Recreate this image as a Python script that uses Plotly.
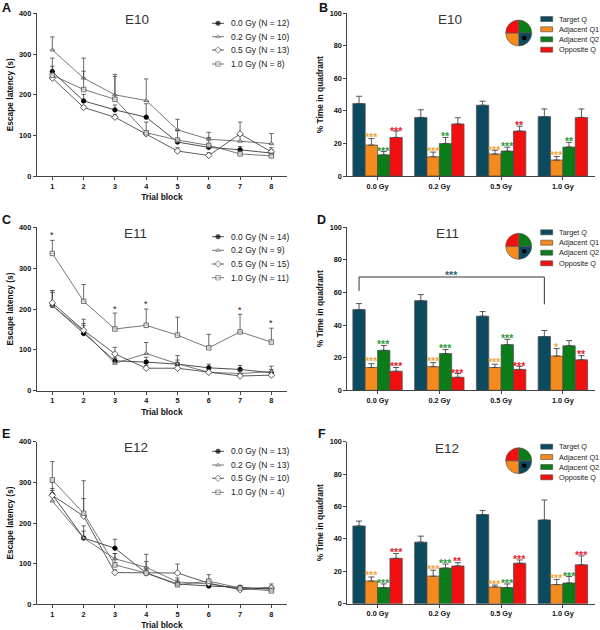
import plotly.graph_objects as go

W, H = 600, 630
trial_blocks = [1, 2, 3, 4, 5, 6, 7, 8]
doses = ["0.0 Gy", "0.2 Gy", "0.5 Gy", "1.0 Gy"]
quadrants = ["Target Q", "Adjacent Q1", "Adjacent Q2", "Opposite Q"]
pie_values = [1, 1, 1, 1]

# Panel A (E10): means and upper error limits
a_00 = [257, 185, 163, 145, 84, 71, 65, 57]
a_00_up = [290, 201, 175, 178, 92, 80, 73, 65]
a_02 = [310, 241, 200, 186, 114, 91, 86, 80]
a_02_up = [342, 290, 250, 239, 140, 108, 100, 105]
a_05 = [241, 169, 145, 104, 62, 51, 104, 60]
a_05_up = [252, 173, 152, 108, 70, 58, 133, 70]
a_10 = [248, 213, 189, 107, 89, 76, 55, 50]
a_10_up = [270, 258, 245, 133, 113, 95, 62, 57]
a_labels = ["0.0 Gy (N = 12)", "0.2 Gy (N = 10)", "0.5 Gy (N = 13)", "1.0 Gy (N = 8)"]

# Panel C (E11)
c_00 = [209, 140, 73, 70, 65, 56, 52, 44]
c_00_up = [245, 165, 82, 82, 75, 65, 62, 52]
c_02 = [208, 146, 67, 91, 66, 45, 42, 47]
c_02_up = [240, 175, 78, 118, 86, 52, 52, 60]
c_05 = [215, 148, 90, 55, 55, 45, 36, 38]
c_05_up = [245, 160, 106, 62, 62, 50, 42, 44]
c_10 = [336, 219, 151, 160, 136, 105, 144, 119]
c_10_up = [368, 260, 190, 200, 180, 138, 187, 153]
c_labels = ["0.0 Gy (N = 14)", "0.2 Gy (N = 9)", "0.5 Gy (N = 15)", "1.0 Gy (N = 11)"]
c_star_x = [1, 3, 4, 7, 8]
c_star_y = [385, 205, 216, 203, 170]

# Panel E (E12)
e_00 = [270, 163, 138, 77, 50, 45, 42, 37]
e_00_up = [300, 193, 160, 90, 55, 50, 45, 43]
e_02 = [254, 163, 112, 91, 55, 50, 38, 42]
e_02_up = [285, 180, 125, 105, 65, 57, 42, 50]
e_05 = [268, 217, 78, 77, 77, 52, 36, 40]
e_05_up = [280, 260, 85, 85, 99, 60, 40, 45]
e_10 = [306, 224, 97, 77, 48, 57, 40, 33]
e_10_up = [351, 304, 125, 123, 60, 73, 45, 40]
e_labels = ["0.0 Gy (N = 13)", "0.2 Gy (N = 13)", "0.5 Gy (N = 10)", "1.0 Gy (N = 4)"]

# Panel B (E10)
b_target = [44.5, 36, 43.5, 36.5]
b_target_up = [49, 40.7, 46, 41.2]
b_q1 = [19, 11.8, 13.5, 9.8]
b_q1_up = [23, 14.7, 15.8, 12]
b_q2 = [13, 20, 15.3, 17.8]
b_q2_up = [15, 23.7, 17.7, 20.7]
b_opp = [23.7, 32, 27.6, 36]
b_opp_up = [27.6, 35.8, 30.6, 41.2]
b_q1_stars = [("***", 25.6), ("***", 17.4), ("***", 18), ("***", 14.5)]
b_q2_stars = [("***", 17.4), ("**", 26.2), ("***", 20), ("**", 23.2)]
b_opp_stars = [("***", 29.7), None, ("**", 33.4), None]

# Panel D (E11)
d_target = [49.5, 55, 45.5, 33]
d_target_up = [53.2, 58.7, 48.3, 36.7]
d_q1 = [14, 14.5, 14, 21]
d_q1_up = [16.3, 17, 16, 25.6]
d_q2 = [24.5, 22.5, 28, 27.3]
d_q2_up = [27.5, 25, 31.3, 30.5]
d_opp = [11.7, 8, 12.8, 18.7]
d_opp_up = [14, 10.3, 14.7, 21.3]
d_q1_stars = [("***", 19.6), ("***", 20), ("***", 19), ("*", 28.4)]
d_q2_stars = [("***", 30.5), ("***", 28), ("***", 34), None]
d_opp_stars = [("***", 17), ("***", 12.7), ("***", 17), ("**", 24)]
d_bracket_x = [-0.3, -0.3, 2.7, 2.7]
d_bracket_y = [61, 69.5, 69.5, 52.7]

# Panel F (E12)
f_target = [48, 38, 55, 51.7]
f_target_up = [51, 41.7, 57.5, 64]
f_q1 = [14, 17, 10.3, 11.8]
f_q1_up = [16.5, 20.7, 11.5, 15]
f_q2 = [10, 22, 10, 12.8]
f_q2_up = [12.2, 24.5, 12.2, 16.8]
f_opp = [28, 23.3, 25, 24]
f_opp_up = [31, 25.3, 27, 29.5]
f_q1_stars = [("***", 19.3), ("***", 23.4), ("***", 14.2), ("***", 17.5)]
f_q2_stars = [("***", 14.6), ("***", 26.7), ("***", 14.6), ("***", 19)]
f_opp_stars = [("***", 33.7), ("**", 28), ("***", 29.4), ("***", 32)]

FONT = "Liberation Sans"
INK = "#2a2a2a"
BAR_COLORS = ["#0C4A5F", "#F58A1E", "#0B7D18", "#F20F0F"]
STAR_COLORS = {"q1": "#F5A53C", "q2": "#2F9A3E", "opp": "#E8222C"}
LINE_STYLES = [
    dict(symbol="circle", size=4.5, color="#000000", line=dict(color="#000000", width=0.7)),
    dict(symbol="triangle-up", size=4, color="rgba(255,255,255,0.6)", line=dict(color="#555555", width=0.8)),
    dict(symbol="diamond", size=5, color="#ffffff", line=dict(color="#333333", width=0.8)),
    dict(symbol="square", size=4.5, color="rgba(235,235,235,0.7)", line=dict(color="#555555", width=0.8)),
]
LINE_COLORS = ["#222222", "#555555", "#333333", "#555555"]

fig = go.Figure()
shapes, annotations = [], []


def px_x(v):
    return v / W


def px_y(v):
    return 1 - v / H


def add_text(x, y, text, size, bold=False, color=INK, anchor="left"):
    annotations.append(dict(
        x=px_x(x), y=px_y(y), xref="paper", yref="paper", text=f"<b>{text}</b>" if bold else text,
        showarrow=False, xanchor=anchor, yanchor="middle", borderpad=0,
        font=dict(family=FONT, size=size, color=color)))


def axes(idx, left, right, top, bottom, xr, yr, dtick, xtitle, ytitle, standoff, ystandoff):
    tick = dict(family=FONT, size=7.3, color="#111111", weight="bold")
    title = dict(family=FONT, size=8.4, color="#111111", weight="bold")
    common = dict(showgrid=False, zeroline=False, showline=True, linecolor="#444444", linewidth=1,
                  ticks="outside", ticklen=3, tickwidth=1, tickcolor="#444444", tickfont=tick, automargin=False)
    fig.update_layout({
        f"xaxis{idx}": dict(domain=[px_x(left), px_x(right)], range=xr, anchor=f"y{idx}", dtick=1,
                            title=dict(text=xtitle, font=title, standoff=standoff), **common),
        f"yaxis{idx}": dict(domain=[px_y(bottom), px_y(top)], range=yr, anchor=f"x{idx}", dtick=dtick,
                            title=dict(text=ytitle, font=title, standoff=ystandoff), **common),
    })


def line_panel(idx, top, bottom, series, labels, title, title_x, rows, letter, letter_y):
    axes(idx, 36.7, 287, top, bottom, [0.5, 8.5], [0, 400], 100, "Trial block", "Escape latency (s)", 4, 4)
    for k, (vals, ups) in enumerate(series):
        fig.add_trace(go.Scatter(
            x=trial_blocks, y=vals, name=labels[k], mode="lines+markers",
            xaxis=f"x{idx}", yaxis=f"y{idx}", showlegend=False,
            line=dict(color=LINE_COLORS[k], width=0.8), marker=LINE_STYLES[k],
            error_y=dict(type="data", symmetric=False, array=[u - v for u, v in zip(ups, vals)],
                         arrayminus=[0] * 8, color="#444444", thickness=0.8, width=2.2)))
    for k, row in enumerate(rows):
        fig.add_trace(go.Scatter(
            x=[212, 218, 224], y=[row, row, row], mode="lines+markers", xaxis="x7", yaxis="y7",
            showlegend=False, hoverinfo="skip", line=dict(color=LINE_COLORS[k], width=0.8),
            marker={**LINE_STYLES[k], "size": [0, LINE_STYLES[k]["size"], 0]}))
        add_text(229.5, row, labels[k], 8.5, color="#222222")
    add_text(title_x, top + 6, title, 13.5, anchor="center", color="#333333")
    add_text(1, letter_y, letter, 12.5, bold=True, color="#111111")


def bar_panel(idx, top, bottom, values, ups, star_sets, title, title_x, rows, pie_cy, letter, letter_x, letter_y):
    axes(idx, 347.3, 595, top, bottom, [-0.49, 3.52], [0, 100], 20, "", "% Time in quadrant", 0, 4)
    fig.layout[f"xaxis{idx}"].update(tickmode="array", tickvals=list(range(4)), ticktext=doses)
    for k, (vals, up) in enumerate(zip(values, ups)):
        fig.add_trace(go.Bar(
            x=list(range(4)), y=vals, name=quadrants[k], xaxis=f"x{idx}", yaxis=f"y{idx}",
            offsetgroup=str(k), showlegend=False, width=0.2,
            marker=dict(color=BAR_COLORS[k], line=dict(color="#4a4a4a", width=0.7)),
            error_y=dict(type="data", symmetric=False, array=[u - v for u, v in zip(up, vals)],
                         arrayminus=[0, 0, 0, 0], color="#444444", thickness=0.9, width=3)))
    for offset, stars, color in star_sets:
        for g, item in enumerate(stars):
            if item:
                annotations.append(dict(
                    x=g + offset, y=item[1], xref=f"x{idx}", yref=f"y{idx}", text=f"<b>{item[0]}</b>",
                    showarrow=False, yanchor="middle", yshift=-3, borderpad=0,
                    font=dict(family=FONT, size=10.5, color=color)))
    for k, row in enumerate(rows):
        shapes.append(dict(type="rect", xref="paper", yref="paper", x0=px_x(540.7), x1=px_x(552.7),
                           y0=px_y(row - 2.5), y1=px_y(row + 2.5), fillcolor=BAR_COLORS[k],
                           line=dict(color="#4a4a4a", width=0.6)))
        add_text(558, row, quadrants[k], 7.3, color="#222222")
    fig.add_trace(go.Pie(
        values=pie_values, labels=["Adjacent Q2", "Target Q", "Adjacent Q1", "Opposite Q"], sort=False,
        direction="clockwise", rotation=0, textinfo="none", hoverinfo="skip", showlegend=False,
        domain=dict(x=[px_x(505.7), px_x(531.7)], y=[px_y(pie_cy + 13), px_y(pie_cy - 13)]),
        marker=dict(colors=[BAR_COLORS[2], BAR_COLORS[0], BAR_COLORS[1], BAR_COLORS[3]],
                    line=dict(color="#555555", width=0.6))))
    shapes.append(dict(type="circle", xref="paper", yref="paper", x0=px_x(522), x1=px_x(526.6),
                       y0=px_y(pie_cy + 7.3), y1=px_y(pie_cy + 2.7), fillcolor="#000000", line=dict(width=0)))
    add_text(title_x, top + 6.3, title, 13.5, anchor="center", color="#333333")
    add_text(letter_x, letter_y, letter, 12.5, bold=True, color="#111111")


line_panel(1, 13.3, 176.3, [(a_00, a_00_up), (a_02, a_02_up), (a_05, a_05_up), (a_10, a_10_up)],
           a_labels, "E10", 136.5, [23.3, 36.7, 50, 64], "A", 8)
line_panel(3, 227.3, 390.7, [(c_00, c_00_up), (c_02, c_02_up), (c_05, c_05_up), (c_10, c_10_up)],
           c_labels, "E11", 135.7, [236.7, 250.3, 264, 277.7], "C", 219.5)
line_panel(5, 441.7, 604.3, [(e_00, e_00_up), (e_02, e_02_up), (e_05, e_05_up), (e_10, e_10_up)],
           e_labels, "E12", 136, [451.3, 465, 478.3, 492.3], "E", 434)

for sx, sy in zip(c_star_x, c_star_y):
    annotations.append(dict(x=sx, y=sy, xref="x3", yref="y3", text="*", showarrow=False, yanchor="middle",
                            yshift=-2, borderpad=0, font=dict(family=FONT, size=9, color="#111111")))

bar_panel(2, 13.3, 176, [b_target, b_q1, b_q2, b_opp], [b_target_up, b_q1_up, b_q2_up, b_opp_up],
          [(-0.1, b_q1_stars, STAR_COLORS["q1"]), (0.1, b_q2_stars, STAR_COLORS["q2"]), (0.3, b_opp_stars, STAR_COLORS["opp"])],
          "E10", 449.7, [19, 29.3, 39.3, 49.7], 33, "B", 317.5, 8)
bar_panel(4, 227.3, 390.3, [d_target, d_q1, d_q2, d_opp], [d_target_up, d_q1_up, d_q2_up, d_opp_up],
          [(-0.1, d_q1_stars, STAR_COLORS["q1"]), (0.1, d_q2_stars, STAR_COLORS["q2"]), (0.3, d_opp_stars, STAR_COLORS["opp"])],
          "E11", 447.7, [232.3, 242.7, 252.7, 263.3], 246.3, "D", 316, 220)
bar_panel(6, 441.7, 603.7, [f_target, f_q1, f_q2, f_opp], [f_target_up, f_q1_up, f_q2_up, f_opp_up],
          [(-0.1, f_q1_stars, STAR_COLORS["q1"]), (0.1, f_q2_stars, STAR_COLORS["q2"]), (0.3, f_opp_stars, STAR_COLORS["opp"])],
          "E12", 447, [446.7, 457, 467, 477.3], 460.7, "F", 316.5, 434)

fig.add_trace(go.Scatter(x=d_bracket_x, y=d_bracket_y, mode="lines", xaxis="x4", yaxis="y4", showlegend=False,
                         hoverinfo="skip", line=dict(color="#333333", width=1)))
annotations.append(dict(x=1.2, y=72.6, xref="x4", yref="y4", text="<b>***</b>", showarrow=False, yanchor="middle",
                        yshift=-3, borderpad=0, font=dict(family=FONT, size=10.5, color="#2B6478")))

fig.update_layout(
    xaxis7=dict(domain=[0, 1], range=[0, W], visible=False, anchor="y7", automargin=False),
    yaxis7=dict(domain=[0, 1], range=[H, 0], visible=False, anchor="x7", automargin=False),
    width=W, height=H, autosize=False, margin=dict(l=0, r=0, t=0, b=0),
    paper_bgcolor="#ffffff", plot_bgcolor="rgba(0,0,0,0)", barmode="group", bargap=0.2, bargroupgap=0,
    showlegend=False, shapes=shapes, annotations=annotations, font=dict(family=FONT),
)

fig.write_html("out.html", config=dict(displayModeBar=False),
               post_script="document.body.style.margin='0';document.body.style.overflow='hidden';")
